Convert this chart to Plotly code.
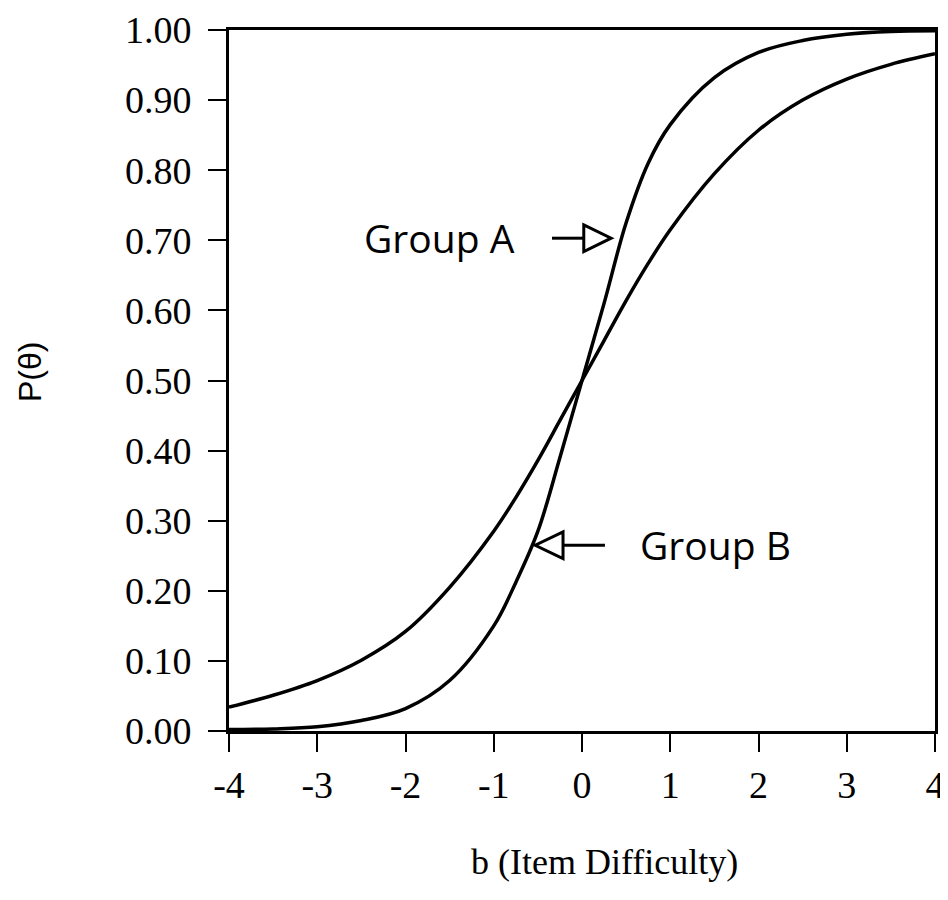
import plotly.graph_objects as go

# Values
theta = [-4, -3.5, -3, -2.5, -2, -1.5, -1, -0.75, -0.5, -0.25, 0,
         0.25, 0.5, 0.75, 1, 1.5, 2, 2.5, 3, 3.5, 4]
p_steep = [0.002, 0.003, 0.006, 0.015, 0.032, 0.072, 0.150, 0.212, 0.285, 0.390, 0.500,
           0.610, 0.725, 0.810, 0.865, 0.932, 0.968, 0.985, 0.994, 0.998, 0.999]
p_shallow = [0.034, 0.051, 0.072, 0.101, 0.142, 0.205, 0.285, 0.333, 0.386, 0.443, 0.500,
             0.557, 0.614, 0.667, 0.715, 0.795, 0.857, 0.900, 0.930, 0.951, 0.966]

x_ticks = [-4, -3, -2, -1, 0, 1, 2, 3, 4]
y_ticks = [0.0, 0.1, 0.2, 0.3, 0.4, 0.5, 0.6, 0.7, 0.8, 0.9, 1.0]

# annotation arrows: (label, tip_x, base_x, tail_x, y, label_x)
group_a = ("Group A", 0.33, 0.02, -0.34, 0.703, -1.62)
group_b = ("Group B", -0.53, -0.215, 0.26, 0.265, 1.51)

# page body has an 8px margin; figure size and margins compensate for it
FW, FH = 940, 884
ML, MT, MR, MB = 221, 22, 13, 161
PW, PH = FW - ML - MR, FH - MT - MB

fig = go.Figure()
for ys in (p_steep, p_shallow):
    fig.add_trace(go.Scatter(x=theta, y=ys, mode="lines",
                             line=dict(color="black", width=3.5, shape="spline", smoothing=1.0),
                             showlegend=False, hoverinfo="skip"))

shapes = []
annotations = []
hh = 0.019
for label, tip, base, tail, yv, lx in (group_a, group_b):
    shapes.append(dict(type="line", xref="x", yref="y", x0=tail, x1=base, y0=yv, y1=yv,
                       line=dict(color="black", width=3)))
    shapes.append(dict(type="path", xref="x", yref="y",
                       path=f"M {base},{yv + hh} L {tip},{yv} L {base},{yv - hh} Z",
                       line=dict(color="black", width=3), fillcolor="white"))
    annotations.append(dict(x=lx, y=yv, xref="x", yref="y", text=label, showarrow=False,
                            font=dict(family="Open Sans", size=39, color="black"),
                            xanchor="center", yanchor="middle", yshift=1))

# axis titles placed at pixel positions (page coords) converted to paper coords
def px_to_paper(px, py):
    fx, fy = px - 8, py - 8
    return (fx - ML) / PW, (FH - MB - fy) / PH

tx, ty = px_to_paper(604, 862)
annotations.append(dict(x=tx, y=ty, xref="paper", yref="paper", text="b (Item Difficulty)",
                        showarrow=False, xanchor="center", yanchor="middle",
                        font=dict(family="Liberation Serif", size=36, color="black")))
px_, py_ = px_to_paper(30, 372)
annotations.append(dict(x=px_, y=py_, xref="paper", yref="paper",
                        text="P(θ)", textangle=-90, showarrow=False,
                        xanchor="center", yanchor="middle",
                        font=dict(family="Liberation Sans", size=32, color="black")))

fig.update_layout(
    width=FW, height=FH,
    margin=dict(l=ML, r=MR, t=MT, b=MB, autoexpand=False),
    paper_bgcolor="white", plot_bgcolor="white",
    shapes=shapes, annotations=annotations,
)

fig.update_xaxes(range=[-4, 4], tickvals=x_ticks, ticktext=[str(v) for v in x_ticks],
                 showline=True, linecolor="black", linewidth=3, mirror=True,
                 ticks="outside", ticklen=18, tickwidth=2, tickcolor="black",
                 showgrid=False, zeroline=False, automargin=False,
                 tickfont=dict(family="Liberation Serif", size=38, color="black"))
fig.update_yaxes(range=[0, 1], tickvals=y_ticks, tickformat=".2f",
                 showline=True, linecolor="black", linewidth=3, mirror=True,
                 ticks="outside", ticklen=18, tickwidth=2, tickcolor="black",
                 ticklabelstandoff=9,
                 showgrid=False, zeroline=False, automargin=False,
                 tickfont=dict(family="Liberation Serif", size=38, color="black"))

fig.write_html("out.html")
